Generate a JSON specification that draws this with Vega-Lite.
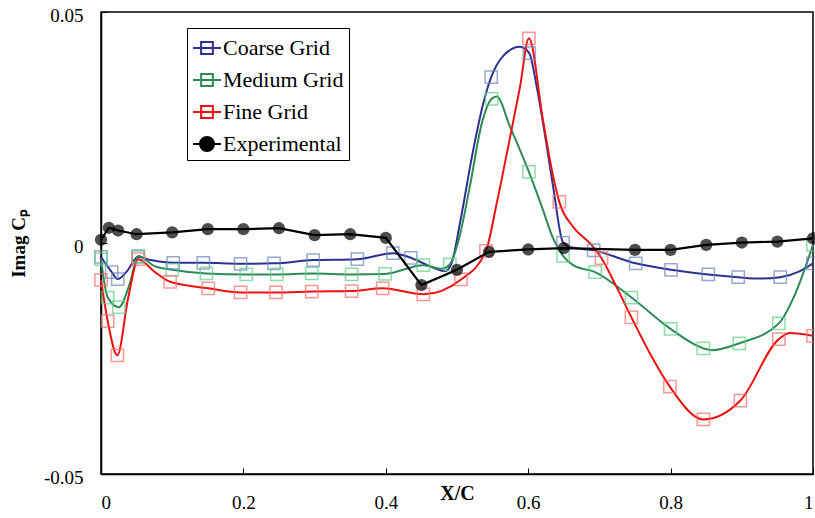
{
  "$schema": "https://vega.github.io/schema/vega-lite/v6.json",
  "width": 712,
  "height": 462,
  "autosize": "none",
  "padding": {"left": 101, "top": 12, "right": 2, "bottom": 44},
  "background": "white",
  "data": {
    "values": [
      {"s": "Coarse Grid", "x": 0, "y": -0.003, "m": 1},
      {"s": "Coarse Grid", "x": 0.008, "y": -0.0048, "m": 0},
      {"s": "Coarse Grid", "x": 0.015, "y": -0.0063, "m": 1},
      {"s": "Coarse Grid", "x": 0.0235, "y": -0.0078, "m": 1},
      {"s": "Coarse Grid", "x": 0.036, "y": -0.0062, "m": 0},
      {"s": "Coarse Grid", "x": 0.052, "y": -0.003, "m": 1},
      {"s": "Coarse Grid", "x": 0.07, "y": -0.0037, "m": 0},
      {"s": "Coarse Grid", "x": 0.1015, "y": -0.0043, "m": 1},
      {"s": "Coarse Grid", "x": 0.1437, "y": -0.0043, "m": 1},
      {"s": "Coarse Grid", "x": 0.196, "y": -0.0045, "m": 1},
      {"s": "Coarse Grid", "x": 0.243, "y": -0.0044, "m": 1},
      {"s": "Coarse Grid", "x": 0.298, "y": -0.0037, "m": 1},
      {"s": "Coarse Grid", "x": 0.36, "y": -0.0035, "m": 1},
      {"s": "Coarse Grid", "x": 0.41, "y": -0.0022, "m": 1},
      {"s": "Coarse Grid", "x": 0.435, "y": -0.0032, "m": 1},
      {"s": "Coarse Grid", "x": 0.46, "y": -0.0049, "m": 0},
      {"s": "Coarse Grid", "x": 0.483, "y": -0.0061, "m": 0},
      {"s": "Coarse Grid", "x": 0.492, "y": -0.0045, "m": 0},
      {"s": "Coarse Grid", "x": 0.505, "y": 0.005, "m": 0},
      {"s": "Coarse Grid", "x": 0.522, "y": 0.0195, "m": 0},
      {"s": "Coarse Grid", "x": 0.537, "y": 0.0303, "m": 0},
      {"s": "Coarse Grid", "x": 0.548, "y": 0.0359, "m": 1},
      {"s": "Coarse Grid", "x": 0.565, "y": 0.0405, "m": 0},
      {"s": "Coarse Grid", "x": 0.5885, "y": 0.0425, "m": 0},
      {"s": "Coarse Grid", "x": 0.6015, "y": 0.0411, "m": 1},
      {"s": "Coarse Grid", "x": 0.612, "y": 0.0338, "m": 0},
      {"s": "Coarse Grid", "x": 0.625, "y": 0.022, "m": 0},
      {"s": "Coarse Grid", "x": 0.635, "y": 0.0122, "m": 0},
      {"s": "Coarse Grid", "x": 0.649, "y": 0.0001, "m": 1},
      {"s": "Coarse Grid", "x": 0.66, "y": -0.0009, "m": 0},
      {"s": "Coarse Grid", "x": 0.692, "y": -0.0016, "m": 1},
      {"s": "Coarse Grid", "x": 0.751, "y": -0.0044, "m": 1},
      {"s": "Coarse Grid", "x": 0.8006, "y": -0.0058, "m": 1},
      {"s": "Coarse Grid", "x": 0.853, "y": -0.0068, "m": 1},
      {"s": "Coarse Grid", "x": 0.895, "y": -0.0074, "m": 1},
      {"s": "Coarse Grid", "x": 0.925, "y": -0.0077, "m": 0},
      {"s": "Coarse Grid", "x": 0.954, "y": -0.0074, "m": 1},
      {"s": "Coarse Grid", "x": 0.98, "y": -0.0062, "m": 0},
      {"s": "Coarse Grid", "x": 1.0, "y": -0.0044, "m": 1},

      {"s": "Medium Grid", "x": 0, "y": -0.0035, "m": 1},
      {"s": "Medium Grid", "x": 0.0094, "y": -0.0118, "m": 1},
      {"s": "Medium Grid", "x": 0.025, "y": -0.0139, "m": 1},
      {"s": "Medium Grid", "x": 0.04, "y": -0.009, "m": 0},
      {"s": "Medium Grid", "x": 0.0524, "y": -0.0028, "m": 1},
      {"s": "Medium Grid", "x": 0.075, "y": -0.005, "m": 0},
      {"s": "Medium Grid", "x": 0.1, "y": -0.0058, "m": 1},
      {"s": "Medium Grid", "x": 0.148, "y": -0.0066, "m": 1},
      {"s": "Medium Grid", "x": 0.204, "y": -0.0068, "m": 1},
      {"s": "Medium Grid", "x": 0.2468, "y": -0.0068, "m": 1},
      {"s": "Medium Grid", "x": 0.296, "y": -0.0066, "m": 1},
      {"s": "Medium Grid", "x": 0.352, "y": -0.0068, "m": 1},
      {"s": "Medium Grid", "x": 0.399, "y": -0.0067, "m": 1},
      {"s": "Medium Grid", "x": 0.4527, "y": -0.0048, "m": 1},
      {"s": "Medium Grid", "x": 0.478, "y": -0.0056, "m": 0},
      {"s": "Medium Grid", "x": 0.49, "y": -0.0046, "m": 1},
      {"s": "Medium Grid", "x": 0.504, "y": 0.0017, "m": 0},
      {"s": "Medium Grid", "x": 0.518, "y": 0.0122, "m": 0},
      {"s": "Medium Grid", "x": 0.535, "y": 0.026, "m": 0},
      {"s": "Medium Grid", "x": 0.5487, "y": 0.0312, "m": 1},
      {"s": "Medium Grid", "x": 0.5557, "y": 0.0317, "m": 0},
      {"s": "Medium Grid", "x": 0.5744, "y": 0.0252, "m": 0},
      {"s": "Medium Grid", "x": 0.601, "y": 0.0154, "m": 1},
      {"s": "Medium Grid", "x": 0.62, "y": 0.0075, "m": 0},
      {"s": "Medium Grid", "x": 0.635, "y": 0.001, "m": 0},
      {"s": "Medium Grid", "x": 0.649, "y": -0.0028, "m": 1},
      {"s": "Medium Grid", "x": 0.663, "y": -0.0048, "m": 0},
      {"s": "Medium Grid", "x": 0.694, "y": -0.0063, "m": 1},
      {"s": "Medium Grid", "x": 0.745, "y": -0.0118, "m": 1},
      {"s": "Medium Grid", "x": 0.8, "y": -0.0186, "m": 1},
      {"s": "Medium Grid", "x": 0.846, "y": -0.0228, "m": 1},
      {"s": "Medium Grid", "x": 0.8577, "y": -0.0232, "m": 0},
      {"s": "Medium Grid", "x": 0.8965, "y": -0.0217, "m": 1},
      {"s": "Medium Grid", "x": 0.952, "y": -0.0174, "m": 1},
      {"s": "Medium Grid", "x": 0.975, "y": -0.011, "m": 0},
      {"s": "Medium Grid", "x": 1.0, "y": -0.0004, "m": 1},

      {"s": "Fine Grid", "x": 0, "y": -0.008, "m": 1},
      {"s": "Fine Grid", "x": 0.0094, "y": -0.0169, "m": 1},
      {"s": "Fine Grid", "x": 0.023, "y": -0.0243, "m": 1},
      {"s": "Fine Grid", "x": 0.038, "y": -0.012, "m": 0},
      {"s": "Fine Grid", "x": 0.0524, "y": -0.0035, "m": 1},
      {"s": "Fine Grid", "x": 0.075, "y": -0.0062, "m": 0},
      {"s": "Fine Grid", "x": 0.097, "y": -0.0084, "m": 1},
      {"s": "Fine Grid", "x": 0.1507, "y": -0.0098, "m": 1},
      {"s": "Fine Grid", "x": 0.196, "y": -0.0107, "m": 1},
      {"s": "Fine Grid", "x": 0.2458, "y": -0.0107, "m": 1},
      {"s": "Fine Grid", "x": 0.296, "y": -0.0105, "m": 1},
      {"s": "Fine Grid", "x": 0.352, "y": -0.0104, "m": 1},
      {"s": "Fine Grid", "x": 0.3956, "y": -0.0098, "m": 1},
      {"s": "Fine Grid", "x": 0.4527, "y": -0.0111, "m": 1},
      {"s": "Fine Grid", "x": 0.5056, "y": -0.0079, "m": 1},
      {"s": "Fine Grid", "x": 0.5407, "y": -0.0017, "m": 1},
      {"s": "Fine Grid", "x": 0.555, "y": 0.008, "m": 0},
      {"s": "Fine Grid", "x": 0.57, "y": 0.0194, "m": 0},
      {"s": "Fine Grid", "x": 0.5885, "y": 0.0338, "m": 0},
      {"s": "Fine Grid", "x": 0.601, "y": 0.0443, "m": 1},
      {"s": "Fine Grid", "x": 0.6208, "y": 0.0266, "m": 0},
      {"s": "Fine Grid", "x": 0.633, "y": 0.016, "m": 0},
      {"s": "Fine Grid", "x": 0.6437, "y": 0.0089, "m": 1},
      {"s": "Fine Grid", "x": 0.663, "y": 0.0035, "m": 0},
      {"s": "Fine Grid", "x": 0.687, "y": -0.0001, "m": 0},
      {"s": "Fine Grid", "x": 0.703, "y": -0.0033, "m": 1},
      {"s": "Fine Grid", "x": 0.724, "y": -0.0095, "m": 0},
      {"s": "Fine Grid", "x": 0.745, "y": -0.0161, "m": 1},
      {"s": "Fine Grid", "x": 0.771, "y": -0.0239, "m": 0},
      {"s": "Fine Grid", "x": 0.799, "y": -0.0311, "m": 1},
      {"s": "Fine Grid", "x": 0.846, "y": -0.0382, "m": 1},
      {"s": "Fine Grid", "x": 0.898, "y": -0.0341, "m": 1},
      {"s": "Fine Grid", "x": 0.952, "y": -0.0208, "m": 1},
      {"s": "Fine Grid", "x": 0.9677, "y": -0.0195, "m": 0},
      {"s": "Fine Grid", "x": 1.0, "y": -0.0201, "m": 1},

      {"s": "Experimental", "x": 0, "y": 0.0007, "m": 1},
      {"s": "Experimental", "x": 0.011, "y": 0.0033, "m": 1},
      {"s": "Experimental", "x": 0.024, "y": 0.0027, "m": 1},
      {"s": "Experimental", "x": 0.05, "y": 0.0019, "m": 1},
      {"s": "Experimental", "x": 0.1, "y": 0.0023, "m": 1},
      {"s": "Experimental", "x": 0.15, "y": 0.003, "m": 1},
      {"s": "Experimental", "x": 0.2, "y": 0.003, "m": 1},
      {"s": "Experimental", "x": 0.25, "y": 0.0032, "m": 1},
      {"s": "Experimental", "x": 0.3, "y": 0.0017, "m": 1},
      {"s": "Experimental", "x": 0.35, "y": 0.0019, "m": 1},
      {"s": "Experimental", "x": 0.4, "y": 0.0011, "m": 1},
      {"s": "Experimental", "x": 0.45, "y": -0.0091, "m": 1},
      {"s": "Experimental", "x": 0.5, "y": -0.0058, "m": 1},
      {"s": "Experimental", "x": 0.545, "y": -0.0019, "m": 1},
      {"s": "Experimental", "x": 0.6, "y": -0.0014, "m": 1},
      {"s": "Experimental", "x": 0.65, "y": -0.0011, "m": 1},
      {"s": "Experimental", "x": 0.75, "y": -0.0015, "m": 1},
      {"s": "Experimental", "x": 0.8, "y": -0.0015, "m": 1},
      {"s": "Experimental", "x": 0.85, "y": -0.0004, "m": 1},
      {"s": "Experimental", "x": 0.9, "y": 0.0001, "m": 1},
      {"s": "Experimental", "x": 0.95, "y": 0.0003, "m": 1},
      {"s": "Experimental", "x": 1.0, "y": 0.001, "m": 1}
    ]
  },
  "encoding": {
    "x": {
      "field": "x", "type": "quantitative",
      "scale": {"domain": [0, 1], "nice": false, "zero": false},
      "axis": {
        "values": [0, 0.2, 0.4, 0.6, 0.8, 1],
        "format": "~g",
        "title": "X/C",
        "titleFont": "Liberation Serif", "titleFontSize": 20, "titleFontWeight": "bold",
        "titleY": 19, "titleBaseline": "middle",
        "labelFont": "Liberation Serif", "labelFontSize": 19, "labelPadding": 25,
        "tickSize": -6, "grid": false
      }
    },
    "y": {
      "field": "y", "type": "quantitative",
      "scale": {"domain": [-0.05, 0.05], "nice": false, "zero": false},
      "axis": {
        "values": [-0.05, 0, 0.05],
        "labelExpr": "replace(format(datum.value, '~g'), '\u2212', '-')",
        "title": "Imag Cₚ",
        "titleFont": "Liberation Serif", "titleFontSize": 19, "titleFontWeight": "bold",
        "titleAngle": 270, "titleX": -83, "titleY": 231, "titleAlign": "center", "titleBaseline": "middle",
        "labelFont": "Liberation Serif", "labelFontSize": 19, "labelPadding": 24, "labelOffset": 3,
        "tickSize": -6, "grid": false
      }
    }
  },
  "layer": [
    {
      "transform": [{"filter": "datum.s !== 'Experimental'"}],
      "mark": {"type": "line", "interpolate": "monotone", "strokeWidth": 2},
      "encoding": {
        "color": {
          "field": "s", "type": "nominal",
          "scale": {
            "domain": ["Coarse Grid", "Medium Grid", "Fine Grid", "Experimental"],
            "range": ["#2E3192", "#2E8B57", "#EE1111", "#000000"]
          },
          "legend": {
            "title": null,
            "orient": "none", "legendX": 86, "legendY": 16,
            "strokeColor": "black", "fillColor": "white",
            "padding": 5,
            "labelFont": "Liberation Serif", "labelFontSize": 22, "labelColor": "black",
            "labelOffset": 1,
            "symbolSize": 784, "symbolStrokeWidth": 2,
            "symbolType": "M-1,0H1M-0.4,-0.4H0.4V0.4H-0.4Z",
            "rowPadding": 6,
            "encode": {
              "symbols": {
                "update": {
                  "shape": {"signal": "datum.value === 'Experimental' ? 'M-1,0H1M0.5,0A0.5,0.5,0,1,1,-0.5,0A0.5,0.5,0,1,1,0.5,0Z' : 'M-1,0H1M-0.42,-0.42H0.42V0.42H-0.42Z'"},
                  "fill": {"signal": "datum.value === 'Experimental' ? 'black' : 'transparent'"}
                }
              }
            }
          }
        }
      }
    },
    {
      "transform": [{"filter": "datum.s !== 'Experimental' && datum.m == 1"}],
      "mark": {"type": "point", "shape": "square", "filled": false, "size": 150, "strokeWidth": 1.5},
      "encoding": {
        "stroke": {
          "field": "s", "type": "nominal",
          "scale": {
            "domain": ["Coarse Grid", "Medium Grid", "Fine Grid"],
            "range": ["#6A86B8", "#5FCF8A", "#FF6B6B"]
          },
          "legend": null
        }
      }
    },
    {
      "transform": [{"filter": "datum.s === 'Experimental'"}],
      "mark": {"type": "line", "strokeWidth": 2.2},
      "encoding": {
        "color": {"field": "s", "type": "nominal"}
      }
    },
    {
      "transform": [{"filter": "datum.s === 'Experimental'"}],
      "mark": {"type": "circle", "size": 150, "color": "black"},
      "encoding": {}
    }
  ],
  "config": {
    "font": "Liberation Serif",
    "view": {"stroke": "black", "strokeWidth": 1.5},
    "axis": {"domainColor": "black", "domainWidth": 1.5, "tickColor": "black", "labelColor": "black", "titleColor": "black"},
    "legend": {"labelFont": "Liberation Serif"}
  }
}
